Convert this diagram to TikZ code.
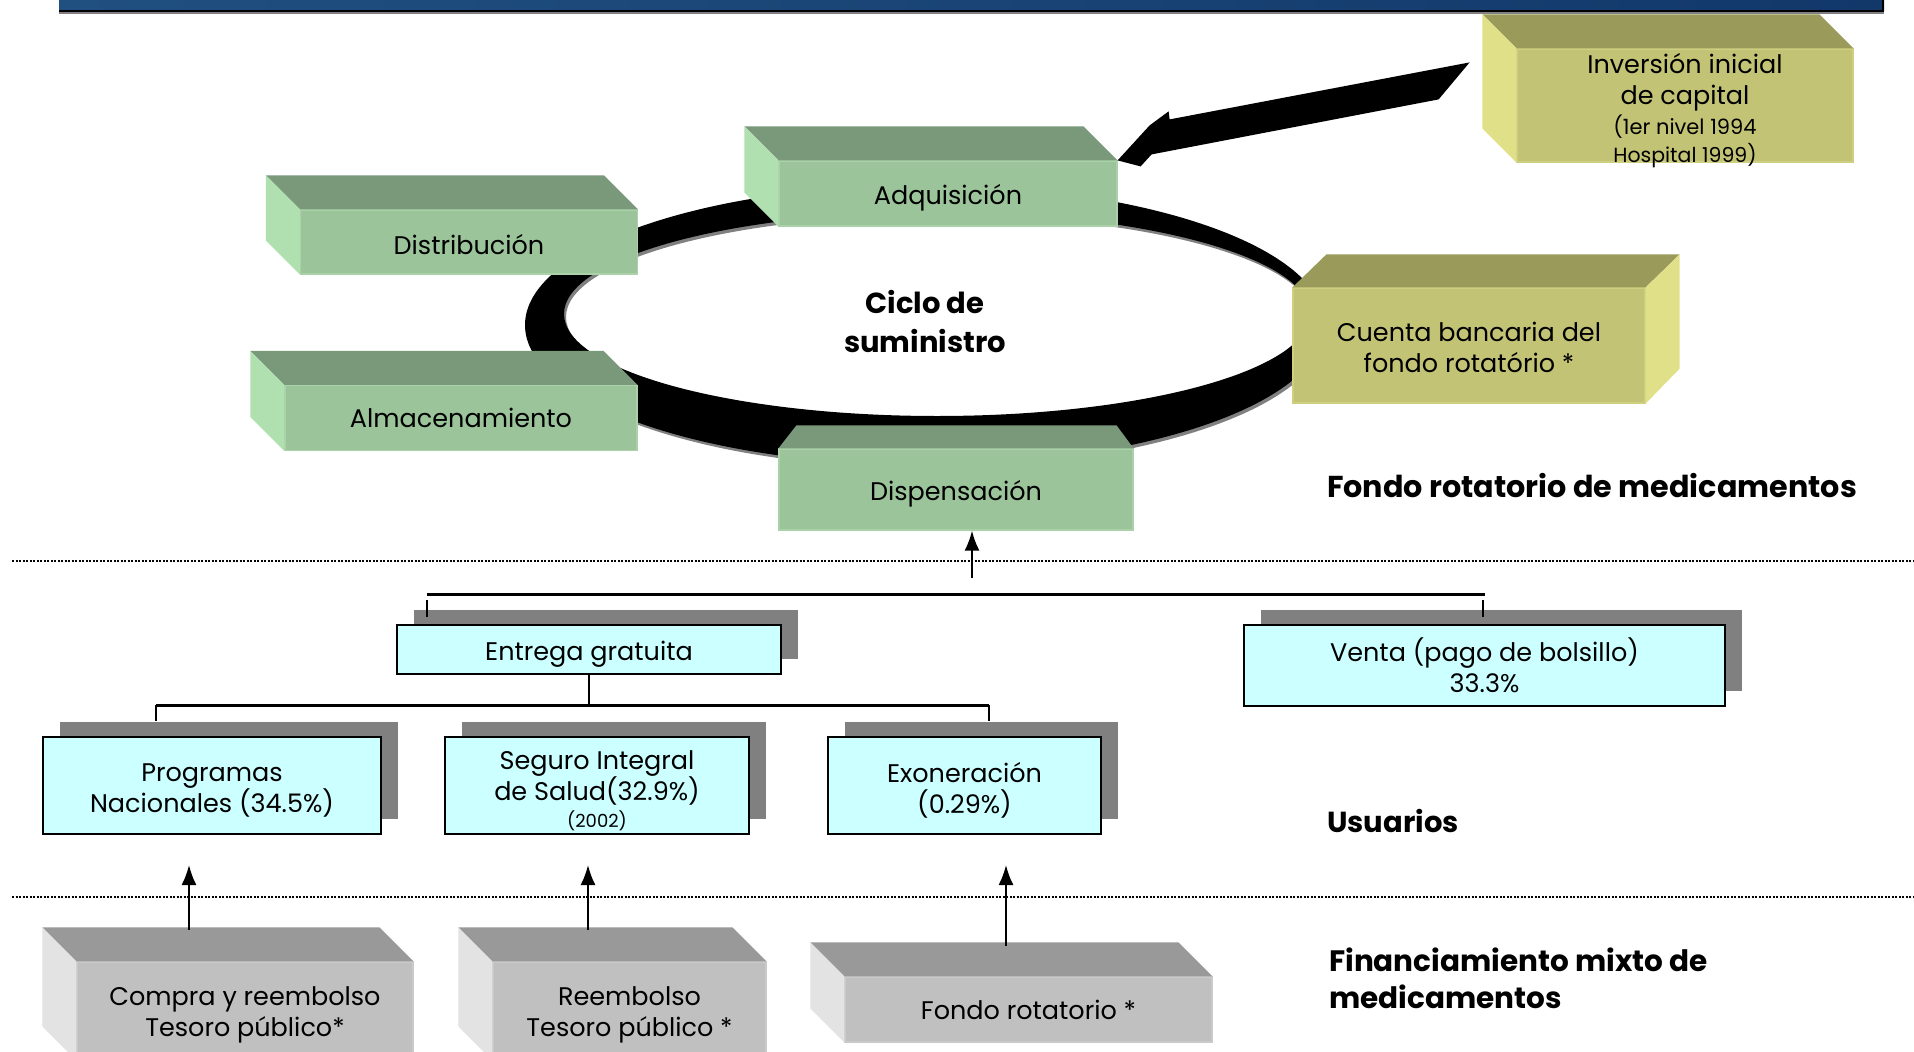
\documentclass[tikz,border=0pt]{standalone}
\usepackage{fontspec}
\setmainfont{Poppins}
\usetikzlibrary{calc,arrows.meta,shadows}
\definecolor{gfront}{HTML}{9BC49B}
\definecolor{gedge}{HTML}{A9D2A9}
\definecolor{gtop}{HTML}{7A987A}
\definecolor{gside}{HTML}{B0E0B0}
\definecolor{ofront}{HTML}{C3C376}
\definecolor{oedge}{HTML}{CFCF80}
\definecolor{otop}{HTML}{9A9A5A}
\definecolor{oside}{HTML}{E0E088}
\definecolor{grfront}{HTML}{C0C0C0}
\definecolor{gredge}{HTML}{CACACA}
\definecolor{grtop}{HTML}{999999}
\definecolor{grside}{HTML}{E3E3E3}
\definecolor{cyanbox}{HTML}{CCFFFF}
\definecolor{shadowgray}{HTML}{808080}
\definecolor{barL}{HTML}{205080}
\definecolor{barR}{HTML}{12386A}
\newcommand\mkboxL[3]{%
  \fill[#2] (#1.north west) -- ++(-34,-34) -- ($(#1.north east)+(-34,-34)$) -- (#1.north east) -- cycle;
  \fill[#3] (#1.north west) -- ++(-34,-34) -- ($(#1.south west)+(-34,-34)$) -- (#1.south west) -- cycle;}
\newcommand\tp[1]{\rule{0pt}{#1}}
\begin{document}
\begin{tikzpicture}[x=1pt,y=-1pt,
  lbl/.style={font=\fontsize{25.5}{31}\selectfont, align=center, text=black, inner sep=0pt},
  gbox/.style={lbl, fill=gfront, draw=gedge, line width=1.2pt},
  obox/.style={lbl, fill=ofront, draw=oedge, line width=1.2pt},
  grbox/.style={lbl, fill=grfront, draw=gredge, line width=1.2pt},
  bluebox/.style={lbl, fill=cyanbox, draw=black, line width=2.5pt,
    drop shadow={shadow xshift=17pt, shadow yshift=15pt, fill=shadowgray, opacity=1}},
  conn/.style={line width=2pt},
  tick/.style={line width=1.5pt},
  barline/.style={line width=3pt},
  uparrow/.style={line width=2pt, -{Latex[length=20pt,width=15pt]}},
  dotline/.style={line width=2pt, dash pattern=on 2pt off 1.5pt},
  heading/.style={font=\bfseries\fontsize{29}{36}\selectfont, anchor=base west, inner sep=0pt, text=black},
  cyclet/.style={font=\bfseries\fontsize{29}{36}\selectfont, anchor=base, inner sep=0pt, text=black}]
\useasboundingbox (0,0) rectangle (1914,1052);
\clip (0,0) rectangle (1914,1052);
\fill[white] (0,0) rectangle (1914,1052);

% title bar
\fill[left color=barL, right color=barR] (59,-2) rectangle (1884,10);
\fill[black] (59,10) rectangle (1884,11.5);
\fill[gray] (59,11.5) rectangle (1884,13.5);
\fill[black] (1882,0) rectangle (1884,11.5);

% supply-cycle ring
\fill[gray, even odd rule, shift={(2,3)}] (925,325) ellipse [x radius=400pt, y radius=140pt]
   (937,314) ellipse [x radius=373pt, y radius=102pt];
\fill[black, even odd rule] (925,325) ellipse [x radius=400pt, y radius=140pt]
   (937,314) ellipse [x radius=373pt, y radius=102pt];
\node[cyclet] (ciclo1) at (925,313) {Ciclo de};
\node[cyclet] (ciclo2) at (925,352) {suministro};

% green 3D boxes
\node[gbox, minimum width=337pt, minimum height=64pt] (dist) at (469,242) {\tp{24.5pt}Distribución};
\mkboxL{dist}{gtop}{gside}
\node[gbox, minimum width=352pt, minimum height=65pt] (alm) at (461,418) {Almacenamiento};
\mkboxL{alm}{gtop}{gside}
\node[gbox, minimum width=338pt, minimum height=65pt] (adq) at (948,193.5) {\tp{29.5pt}Adquisición};
\mkboxL{adq}{gtop}{gside}
\node[gbox, minimum width=354pt, minimum height=81pt] (disp) at (956,489.5) {\tp{29.5pt}Dispensación};
\fill[gtop] (disp.north west) -- ($(disp.north west)+(18,-23)$) -- ($(disp.north east)+(-17,-23)$) -- (disp.north east) -- cycle;

% olive boxes
\node[obox, minimum width=352pt, minimum height=115pt] (cta) at (1469,345.5) {\tp{24pt}Cuenta bancaria del\\fondo rotatório *};
\fill[otop] (cta.north west) -- ++(34,-33) -- ($(cta.north east)+(34,-33)$) -- (cta.north east) -- cycle;
\fill[oside] (cta.north east) -- ++(34,-33) -- ($(cta.south east)+(34,-35)$) -- (cta.south east) -- cycle;
\node[obox, inner ysep=-10pt, minimum width=336pt, minimum height=113pt] (inv) at (1685,105.5)
  {\tp{29.5pt}Inversión inicial\\de capital\\[-1pt]{\fontsize{21}{28}\selectfont (1er nivel 1994}\\[-3pt]{\fontsize{20.5}{28}\selectfont Hospital 1999)}};
\mkboxL{inv}{otop}{oside}

% big block arrow from capital investment to acquisition
\fill[black] ($(adq.north east)+(352,-98)$) -- ($(adq.north east)+(52,-41)$) -- ($(adq.north east)+(51,-49)$)
  -- ($(adq.north east)+(32,-35)$) -- (adq.north east) -- ($(adq.north east)+(23,6)$)
  -- ($(adq.north east)+(34,-6)$) -- ($(adq.north east)+(321,-61)$) -- cycle;

\node[heading, font=\bfseries\fontsize{30.2}{36}\selectfont] (hfondo) at (1327,497) {Fondo rotatorio de medicamentos};

% dotted separators
\coordinate (d1a) at (12,561); \coordinate (d1b) at (1914,561);
\draw[dotline] (d1a) -- (d1b);
\coordinate (d2a) at (12,897); \coordinate (d2b) at (1914,897);
\draw[dotline] (d2a) -- (d2b);

% users boxes
\node[bluebox, minimum width=384pt, minimum height=49pt] (ent) at (589,649.5) {\tp{28.5pt}Entrega gratuita};
\node[bluebox, minimum width=481pt, minimum height=81pt] (vta) at (1484.5,665.5) {Venta (pago de bolsillo)\\33.3\%};
\node[bluebox, minimum width=338pt, minimum height=97pt] (prog) at (212,785.5) {\tp{28pt}Programas\\Nacionales (34.5\%)};
\node[bluebox, minimum width=304pt, minimum height=97pt] (seg) at (597,785.5)
  {\tp{30pt}Seguro Integral\\de Salud(32.9\%)\\[-4pt]{\fontsize{18}{24}\selectfont (2002)}};
\node[bluebox, minimum width=273pt, minimum height=97pt] (exo) at (964.5,785.5) {\tp{30.5pt}Exoneración\\(0.29\%)};

% arrow into Dispensación
\coordinate (dispin) at (972,578);
\draw[uparrow] (dispin) -- (dispin |- disp.south);

% top bracket
\coordinate (b1l) at (427,594); \coordinate (b1r) at (1485,594);
\draw[barline] (b1l) -- (b1r);
\coordinate (t1a) at (427,600); \coordinate (t1b) at (427,617);
\coordinate (t2a) at (1483,600); \coordinate (t2b) at (1483,617);
\draw[tick] (t1a) -- (t1b);
\draw[tick] (t2a) -- (t2b);

% lower bracket
\coordinate (b2l) at (156,705); \coordinate (b2r) at (989,705);
\draw[conn] (ent.south) -- (ent.south |- b2l);
\draw[barline] (b2l) -- (b2r);
\coordinate (t3) at (156,721); \coordinate (t4) at (989,721);
\draw[conn] (b2l) -- (t3);
\draw[conn] (b2r) -- (t4);

\node[heading] (husu) at (1327,832) {Usuarios};

% financing boxes
\node[grbox, minimum width=336pt, minimum height=98pt] (gb1) at (245,1011) {\tp{27.5pt}Compra y reembolso\\Tesoro público*};
\mkboxL{gb1}{grtop}{grside}
\node[grbox, minimum width=273pt, minimum height=98pt] (gb2) at (629.5,1011) {\tp{27.5pt}Reembolso\\Tesoro público *};
\mkboxL{gb2}{grtop}{grside}
\node[grbox, minimum width=367pt, minimum height=65pt] (gb3) at (1028.5,1009.5) {Fondo rotatorio *};
\mkboxL{gb3}{grtop}{grside}

% financing arrows
\coordinate (f1a) at (189,930); \coordinate (f1b) at (189,865);
\coordinate (f2a) at (588,930); \coordinate (f2b) at (588,865);
\coordinate (f3a) at (1006,946); \coordinate (f3b) at (1006,865);
\draw[uparrow] (f1a) -- (f1b);
\draw[uparrow] (f2a) -- (f2b);
\draw[uparrow] (f3a) -- (f3b);

\node[heading, font=\bfseries\fontsize{29.5}{36}\selectfont] (hfin1) at (1329,971) {Financiamiento mixto de};
\node[heading, font=\bfseries\fontsize{29.5}{36}\selectfont] (hfin2) at (1329,1008) {medicamentos};
\end{tikzpicture}
\end{document}
